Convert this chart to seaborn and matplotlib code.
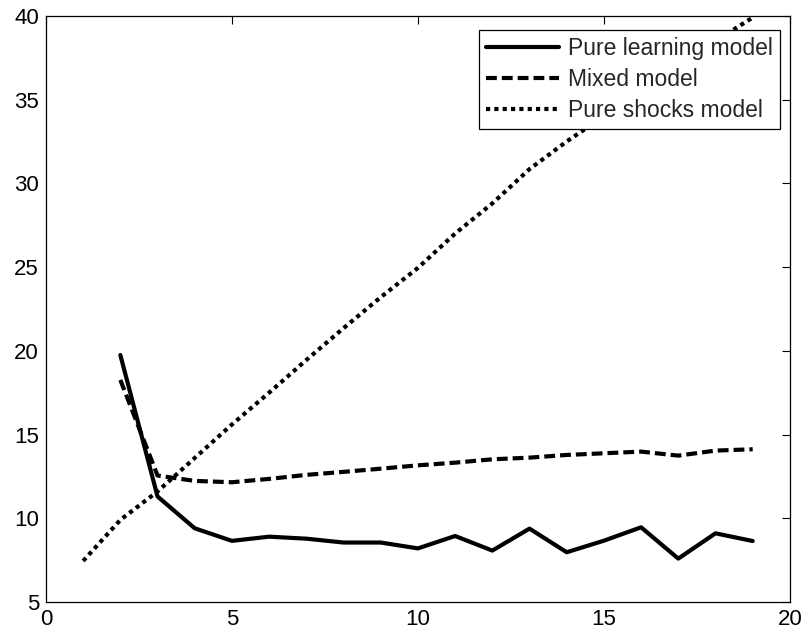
import matplotlib
matplotlib.use("Agg")
import matplotlib.pyplot as plt
import numpy as np
import pandas as pd
import seaborn as sns

# Series values per period
periods_learning = list(range(2, 20))
pure_learning = [19.75, 11.3, 9.4, 8.65, 8.9, 8.78, 8.55, 8.55, 8.2,
                 8.94, 8.07, 9.38, 7.97, 8.66, 9.46, 7.59, 9.1, 8.64]

periods_mixed = list(range(2, 20))
mixed = [18.26, 12.55, 12.23, 12.15, 12.35, 12.59, 12.77, 12.96, 13.16,
         13.32, 13.52, 13.62, 13.78, 13.88, 13.98, 13.74, 14.04, 14.12]

periods_shocks = list(range(1, 20))
pure_shocks = [7.45, 9.9, 11.6, 13.6, 15.6, 17.5, 19.45, 21.35, 23.2, 24.95,
               27.0, 28.8, 30.85, 32.5, 34.0, 35.5, 37.0, 38.5, 39.9]

model_names = ["Pure learning model", "Mixed model", "Pure shocks model"]
x_ticks = [0, 5, 10, 15, 20]
y_ticks = [5, 10, 15, 20, 25, 30, 35, 40]

df = pd.concat([
    pd.DataFrame({"t": periods_learning, "value": pure_learning, "model": model_names[0]}),
    pd.DataFrame({"t": periods_mixed, "value": mixed, "model": model_names[1]}),
    pd.DataFrame({"t": periods_shocks, "value": pure_shocks, "model": model_names[2]}),
], ignore_index=True)

sns.set_style("white")
plt.rcParams["font.family"] = ["Liberation Sans", "DejaVu Sans"]
plt.rcParams["xtick.direction"] = "in"
plt.rcParams["ytick.direction"] = "in"

fig = plt.figure(figsize=(8.06, 6.35), dpi=100)
ax = fig.add_axes([0.057, 0.052, 0.923, 0.923])

sns.lineplot(
    data=df, x="t", y="value", hue="model", style="model",
    hue_order=model_names, style_order=model_names,
    palette=["black"] * 3,
    dashes={model_names[0]: "", model_names[1]: (2.6, 1.2), model_names[2]: (1, 1)},
    linewidth=3.0, ax=ax, legend=True, sort=False,
)

ax.set_xlim(0, 20)
ax.set_ylim(5, 40)
ax.set_xticks(x_ticks)
ax.set_yticks(y_ticks)
ax.set_xlabel("")
ax.set_ylabel("")
ax.tick_params(axis="both", which="both", direction="in", length=6, width=0.8,
               labelsize=16, colors="black", top=True, right=True)
ax.tick_params(axis="x", pad=5)
ax.tick_params(axis="y", pad=5)
for s in ax.spines.values():
    s.set_visible(True)
    s.set_color("black")
    s.set_linewidth(0.9)

handles, labels = ax.get_legend_handles_labels()
leg = ax.legend(handles, labels, loc="upper right", fontsize=16.5,
                frameon=True, fancybox=False, edgecolor="black",
                framealpha=1, handlelength=3.2, handletextpad=0.4,
                labelspacing=0.35, borderpad=0.3, borderaxespad=0,
                bbox_to_anchor=(0.9866, 0.976))
leg.get_frame().set_linewidth(0.9)
for line in leg.get_lines():
    line.set_linewidth(3.0)

fig.savefig("out.png", dpi=100, facecolor="white")
